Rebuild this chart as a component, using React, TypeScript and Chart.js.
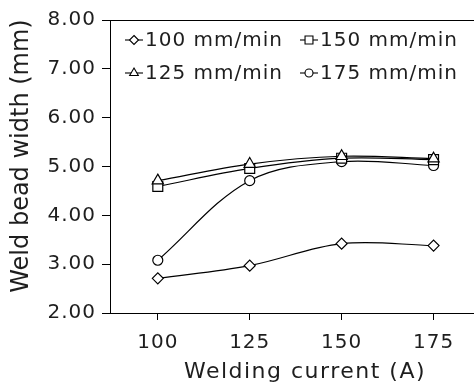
import React, { useEffect, useRef } from "react";
import { Chart, registerables } from "chart.js";

Chart.register(...registerables);

// ---- data ----
const currents = [100, 125, 150, 175];
const xTickValues = [100, 125, 150, 175];
const speed100 = [2.71, 2.97, 3.42, 3.38];
const speed125 = [4.71, 5.05, 5.21, 5.16];
const speed150 = [4.59, 4.96, 5.17, 5.14];
const speed175 = [3.08, 4.71, 5.1, 5.02];
const seriesLabels = ["100 mm/min", "125 mm/min", "150 mm/min", "175 mm/min"];
const xTitle = "Welding current (A)";
const yTitle = "Weld bead width (mm)";

const FONT = "'DejaVu Sans', 'Open Sans', sans-serif";
const INK = "#1e1e1e";

type Style = "diamond" | "triangle" | "square" | "circle";

function markerPath(ctx: CanvasRenderingContext2D, style: Style, x: number, y: number, r: number) {
  ctx.beginPath();
  if (style === "diamond") {
    ctx.moveTo(x, y - r);
    ctx.lineTo(x + r, y);
    ctx.lineTo(x, y + r);
    ctx.lineTo(x - r, y);
    ctx.closePath();
  } else if (style === "triangle") {
    const s = Math.sin(Math.PI / 3) * r;
    ctx.moveTo(x, y - r);
    ctx.lineTo(x + s, y + r / 2);
    ctx.lineTo(x - s, y + r / 2);
    ctx.closePath();
  } else if (style === "square") {
    const h = r * Math.SQRT1_2;
    ctx.rect(x - h, y - h, 2 * h, 2 * h);
  } else {
    ctx.arc(x, y, r, 0, Math.PI * 2);
  }
}

export default function App() {
  const ref = useRef<HTMLCanvasElement | null>(null);

  useEffect(() => {
    const canvas = ref.current;
    if (!canvas) return;

    const setSpacing = (chart: any) => {
      (chart.ctx as any).letterSpacing = "1px";
    };

    const spacingPlugin = {
      id: "spacing",
      beforeUpdate: setSpacing,
      beforeLayout: setSpacing,
      beforeDraw: setSpacing,
    };

    const legendItems: { label: string; style: Style; col: number; row: number; r: number }[] = [
      { label: seriesLabels[0], style: "diamond", col: 0, row: 0, r: 4.5 },
      { label: seriesLabels[1], style: "triangle", col: 0, row: 1, r: 5 },
      { label: seriesLabels[2], style: "square", col: 1, row: 0, r: 5.6 },
      { label: seriesLabels[3], style: "circle", col: 1, row: 1, r: 4 },
    ];

    const decorPlugin = {
      id: "decor",
      afterDraw(chart: any) {
        const ctx: CanvasRenderingContext2D = chart.ctx;
        const { left, right, top } = chart.chartArea;
        ctx.save();
        // top frame line
        ctx.strokeStyle = "#000";
        ctx.lineWidth = 1;
        ctx.beginPath();
        ctx.moveTo(left, Math.round(top) + 0.5);
        ctx.lineTo(right, Math.round(top) + 0.5);
        ctx.stroke();

        // legend
        ctx.font = `20px ${FONT}`;
        (ctx as any).letterSpacing = "1px";
        ctx.fillStyle = INK;
        ctx.textBaseline = "middle";
        ctx.textAlign = "left";
        for (const it of legendItems) {
          const mx = left + (it.col === 0 ? 24 : 199);
          const tx = left + (it.col === 0 ? 35 : 210);
          const my = top + (it.row === 0 ? 20 : 53);
          ctx.strokeStyle = "#000";
          ctx.lineWidth = 1.1;
          ctx.beginPath();
          ctx.moveTo(mx - 9, my);
          ctx.lineTo(mx + 9, my);
          ctx.stroke();
          markerPath(ctx, it.style, mx, my, it.r);
          ctx.fillStyle = "#fff";
          ctx.fill();
          ctx.stroke();
          ctx.fillStyle = INK;
          ctx.fillText(it.label, tx, my + 1);
        }

        // axis titles
        ctx.textAlign = "center";
        ctx.textBaseline = "middle";
        ctx.font = `22px ${FONT}`;
        (ctx as any).letterSpacing = "1.5px";
        ctx.fillText(xTitle, 305, 372);

        ctx.font = `24px ${FONT}`;
        (ctx as any).letterSpacing = "0px";
        ctx.translate(22, 156);
        ctx.rotate(-Math.PI / 2);
        ctx.fillText(yTitle, 0, 0);
        ctx.restore();
      },
    };

    const mk = (label: string, values: number[], style: string, radius: number) => ({
      label,
      data: currents.map((c, i) => ({ x: c, y: values[i] })),
      borderColor: "#000",
      borderWidth: 1.2,
      backgroundColor: "#fff",
      pointStyle: style,
      pointRadius: radius,
      pointBackgroundColor: "#fff",
      pointBorderColor: "#000",
      pointBorderWidth: 1.2,
      tension: 0.35,
      fill: false,
    });

    const chart = new Chart(canvas, {
      type: "line",
      data: {
        datasets: [
          mk(seriesLabels[0], speed100, "rectRot", 5.5),
          mk(seriesLabels[1], speed125, "triangle", 6.5),
          mk(seriesLabels[2], speed150, "rect", 7),
          mk(seriesLabels[3], speed175, "circle", 5),
        ] as any,
      },
      options: {
        animation: false,
        responsive: false,
        devicePixelRatio: 1,
        layout: { autoPadding: false, padding: { top: 20, right: 0, left: 0, bottom: 0 } },
        plugins: {
          legend: { display: false },
          tooltip: { enabled: false },
          title: { display: false },
        },
        scales: {
          x: {
            type: "linear",
            min: 87,
            max: 186,
            afterBuildTicks: (s: any) => {
              s.ticks = xTickValues.map((v) => ({ value: v }));
            },
            afterFit: (s: any) => {
              s.height = 77;
            },
            grid: { drawOnChartArea: false, drawTicks: true, tickLength: 7, color: "#000", tickColor: "#000" },
            border: { display: true, color: "#000", width: 1 },
            ticks: {
              color: INK,
              font: { family: FONT, size: 20 },
              padding: 11,
              maxRotation: 0,
              autoSkip: false,
            },
          },
          y: {
            type: "linear",
            min: 2,
            max: 8,
            afterFit: (s: any) => {
              s.width = 110;
            },
            grid: { drawOnChartArea: false, drawTicks: true, tickLength: 8, color: "#000", tickColor: "#000" },
            border: { display: true, color: "#000", width: 1 },
            ticks: {
              stepSize: 1,
              color: INK,
              font: { family: FONT, size: 20 },
              padding: 6,
              callback: (v: any) => Number(v).toFixed(2),
            },
          },
        },
      },
      plugins: [spacingPlugin, decorPlugin],
    });

    return () => chart.destroy();
  }, []);

  return (
    <div
      style={{
        position: "fixed",
        left: 0,
        top: 0,
        width: 474,
        height: 390,
        overflow: "hidden",
        background: "#fff",
      }}
    >
      <canvas ref={ref} width={474} height={390} style={{ display: "block" }} />
    </div>
  );
}
